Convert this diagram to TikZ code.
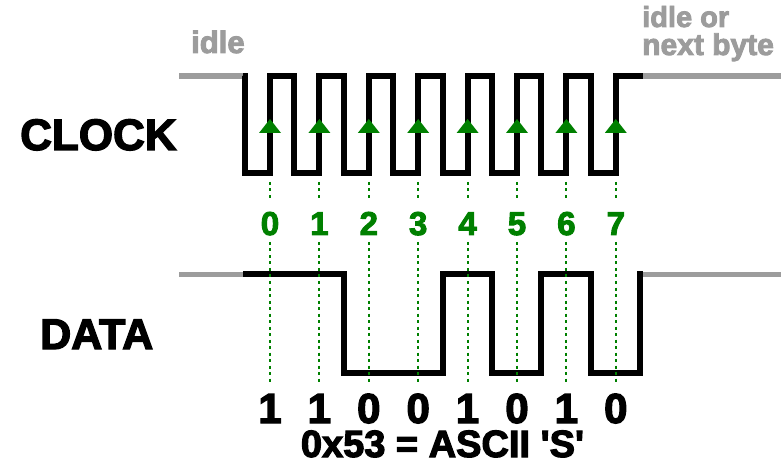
\documentclass[tikz,border=0pt]{standalone}
\usepackage{fontspec}
\setmainfont{Liberation Sans}[Ligatures=TeXOff, BoldFeatures={FakeBold=3}]
\definecolor{idlegray}{HTML}{9C9C9C}
\definecolor{bitgreen}{HTML}{008000}

\begin{document}
\begin{tikzpicture}[x=1pt,y=-1pt,
  wave/.style={line width=6pt, line join=miter, black},
  idleline/.style={line width=5.5pt, idlegray},
  guide/.style={bitgreen, line width=2pt, dash pattern=on 3pt off 3.5pt},
  edgetip/.style={fill=bitgreen},
  lbl/.style={inner sep=0pt, font=\bfseries},
  sig/.style={lbl, anchor=base west, font=\fontsize{44}{44}\selectfont\bfseries},
  idletxt/.style={lbl, anchor=base west, text=idlegray},
  idxtxt/.style={lbl, anchor=base, text=bitgreen, font=\fontsize{33}{33}\selectfont\bfseries},
  bittxt/.style={lbl, anchor=base, font=\fontsize{42}{42}\selectfont\bfseries}]

\useasboundingbox (0,0) rectangle (784,462);

% signal names
\node[sig] (clk) at (20,150) {CLOCK};
\node[sig, font=\fontsize{43}{43}\selectfont\bfseries] (dat) at (40,349) {DATA};

% idle annotations
\node[idletxt, font=\fontsize{31}{31}\selectfont\bfseries] (idleL) at (191,53) {idle};
\node[idletxt, font=\fontsize{29}{29}\selectfont\bfseries] (idleR1) at (642,27) {idle or};
\node[idletxt, font=\fontsize{30}{30}\selectfont\bfseries] (idleR2) at (642,55) {next byte};

% clock waveform
\draw[idleline] (179,76) -- (244,76);
\draw[idleline] (642,76) -- (781,76);
\draw[wave] (243,76) -| (245,173) -| (270,76)
  -| (294.4,173) -| (319.4,76)
  -| (343.8,173) -| (368.8,76)
  -| (393.2,173) -| (418.2,76)
  -| (442.6,173) -| (467.6,76)
  -| (492,173) -| (517,76)
  -| (541.4,173) -| (566.4,76)
  -| (590.8,173) -| (615.8,76) -- (643,76);

% data waveform: 1 1 0 0 1 0 1 0
\draw[idleline] (179,274.5) -- (244,274.5);
\draw[idleline] (642,274.5) -- (781,274.5);
\draw[wave] (243,274.5) -| (343.8,372.5) -| (442.6,274.5)
  -| (492,372.5) -| (541.4,274.5)
  -| (590.8,372.5) -| (640.2,274.5) -- (643,274.5);

% sampling edges, bit indices and bit values
\foreach \i/\b in {0/1,1/1,2/0,3/0,4/1,5/0,6/1,7/0} {
  \pgfmathsetmacro\r{270+49.4*\i}
  \coordinate (e\i) at (\r,126);
  \fill[edgetip] (\r-11,133) -- (\r,119) -- (\r+11,133) -- cycle;
  \draw[guide] (\r,182) -- (\r,200);
  \node[idxtxt] (idx\i) at (\r,235) {\i};
  \draw[guide] (\r,242) -- (\r,382);
  \node[bittxt] (bit\i) at (\r,423) {\b};
}

% resulting byte
\node[lbl, anchor=base, font=\fontsize{38}{38}\selectfont\bfseries] (byte) at (442.5,457) {0x53 = ASCII 'S'};
\end{tikzpicture}
\end{document}
